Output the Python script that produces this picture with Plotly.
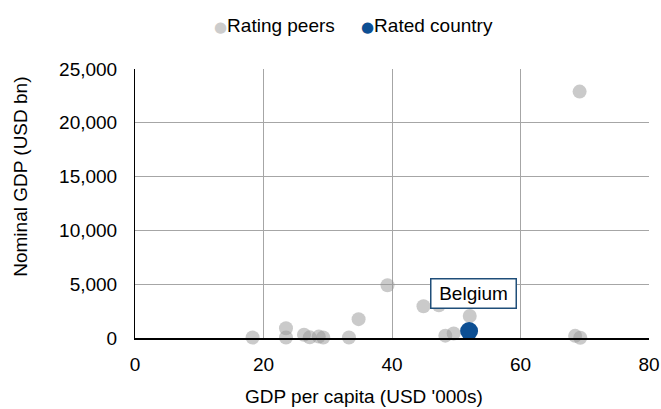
import plotly.graph_objects as go

# GDP per capita (USD '000s) and nominal GDP (USD bn)
peer_gdp_pc = [18.3, 23.5, 23.5, 26.3, 27.2, 28.6, 29.3, 33.3, 34.8, 39.3,
               44.9, 47.3, 48.3, 49.6, 52.1, 68.5, 69.3, 69.2]
peer_gdp = [40, 900, 40, 300, 60, 130, 50, 40, 1750, 4900,
            2950, 3050, 220, 420, 2040, 200, 30, 22900]

rated_name = "Belgium"
rated_gdp_pc = [52.0]
rated_gdp = [650]

x_ticks = [0, 20, 40, 60, 80]
y_ticks = [0, 5000, 10000, 15000, 20000, 25000]

FONT = "Liberation Sans, Arial, sans-serif"
GRID = "#a6a6a6"
PEER_COLOR = "rgba(150,150,150,0.5)"
RATED_COLOR = "#0d4f93"

fig = go.Figure()
fig.add_trace(go.Scatter(
    x=peer_gdp_pc, y=peer_gdp, mode="markers", name="Rating peers",
    marker=dict(size=14, color=PEER_COLOR, line=dict(width=0)),
    cliponaxis=False, showlegend=False,
))
fig.add_trace(go.Scatter(
    x=rated_gdp_pc, y=rated_gdp, mode="markers", name="Rated country",
    marker=dict(size=18, color=RATED_COLOR, line=dict(width=0)),
    cliponaxis=False, showlegend=False,
))

fig.add_annotation(
    x=rated_gdp_pc[0], y=rated_gdp[0], xref="x", yref="y",
    text=rated_name, showarrow=False, xshift=4, yshift=38,
    font=dict(family=FONT, size=19, color="#000000"),
    bgcolor="white", bordercolor="#1f4e79", borderwidth=1.5,
    borderpad=1, width=82, height=26,
)

# compact legend row: coloured bullet + series name
legend_items = [
    ("Rating peers", "#cccccc", 0.1498),
    ("Rated country", RATED_COLOR, 0.4358),
]
for label, color, lx in legend_items:
    fig.add_annotation(
        x=lx, y=1.163, xref="paper", yref="paper",
        text=(f"<span style='color:{color};font-size:15px;"
              f"font-family:DejaVu Sans'>●</span>{label}"),
        showarrow=False, xanchor="left", yanchor="middle",
        font=dict(family=FONT, size=19, color="#000000"),
    )

# axis titles
fig.add_annotation(
    x=0.445, y=-0.219, xref="paper", yref="paper",
    text="GDP per capita (USD '000s)", showarrow=False,
    font=dict(family=FONT, size=19, color="#000000"),
    xanchor="center", yanchor="middle",
)
fig.add_annotation(
    x=-0.222, y=0.599, xref="paper", yref="paper",
    text="Nominal GDP (USD bn)", showarrow=False, textangle=-90,
    font=dict(family=FONT, size=19, color="#000000"),
    xanchor="center", yanchor="middle",
)

fig.update_layout(
    width=661, height=409,
    margin=dict(l=135, r=12, t=69, b=71),
    paper_bgcolor="white", plot_bgcolor="white",
    font=dict(family=FONT, size=19, color="#000000"),
    showlegend=False,
    xaxis=dict(
        range=[0, 80], tickvals=x_ticks, ticktext=[str(v) for v in x_ticks],
        showgrid=True, gridcolor=GRID, gridwidth=1,
        showline=True, linecolor="#000000", linewidth=2,
        zeroline=False, ticks="", ticklabelstandoff=8,
        tickfont=dict(family=FONT, size=19), automargin=False,
    ),
    yaxis=dict(
        range=[0, 25000], tickvals=y_ticks,
        ticktext=[f"{v:,}" for v in y_ticks],
        showgrid=True, gridcolor=GRID, gridwidth=1,
        showline=True, linecolor="#000000", linewidth=1,
        zeroline=False, ticks="", ticklabelstandoff=13,
        tickfont=dict(family=FONT, size=19), automargin=False,
    ),
)

fig.write_html("out.html")
